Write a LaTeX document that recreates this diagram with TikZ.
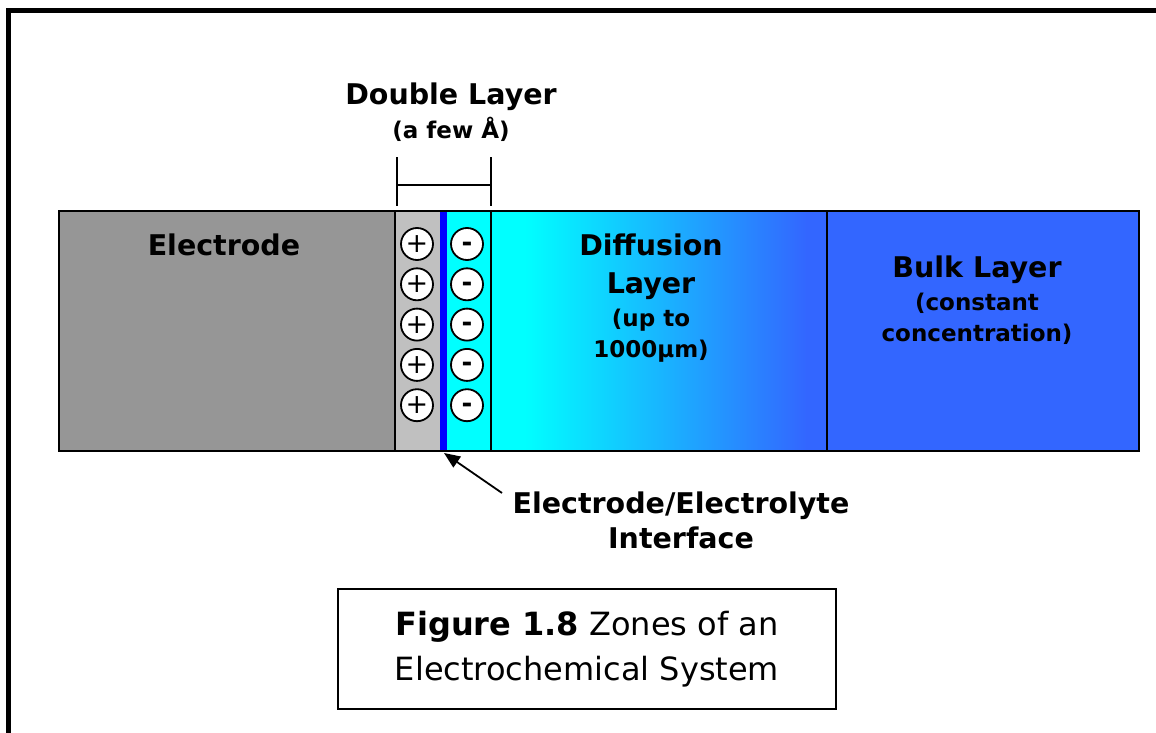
\documentclass[tikz,border=0pt]{standalone}
\usepackage{fontspec}
\setmainfont{DejaVu Sans}
\usetikzlibrary{arrows.meta,positioning,calc}
\definecolor{ElectrodeGray}{HTML}{969696}
\definecolor{SternGray}{HTML}{C0C0C0}
\definecolor{Interface}{HTML}{0000FF}
\definecolor{Aqua}{HTML}{00FFFF}
\definecolor{Bulk}{HTML}{3366FF}
\pgfdeclarehorizontalshading{diffshade}{100bp}{color(0bp)=(Aqua); color(30bp)=(Aqua); color(72bp)=(Bulk); color(100bp)=(Bulk)}

\begin{document}
\begin{tikzpicture}[x=1pt, y=-1pt, >={Triangle[length=16pt,width=13pt]},
  zone/.style={draw=black, line width=1.5pt},
  ion/.style={circle, draw=black, fill=white, line width=1.8pt, minimum size=32pt, inner sep=0pt},
  head/.style={font=\fontsize{28.5}{38}\selectfont\bfseries, align=center, anchor=base},
  sub/.style={font=\fontsize{23}{30.5}\selectfont\bfseries, align=center, anchor=base}]
\useasboundingbox (0,0) rectangle (1156,733);
\clip (0,0) rectangle (1156,733);
% outer frame, runs off the page at right and bottom
\draw[line width=5pt] (8.5,760) -- (8.5,10.5) -- (1180,10.5);
% zones
\fill[ElectrodeGray] (59,211) rectangle (395,451);
\fill[SternGray] (395,211) rectangle (440,451);
\fill[Aqua] (447,211) rectangle (491,451);
\shade[shading=diffshade] (491,211) rectangle (827,451);
\fill[Bulk] (827,211) rectangle (1139,451);
\fill[Interface] (440,211) rectangle (447,451);
\draw[zone] (59,211) rectangle (1139,451);
\foreach \xs in {395,491,827} \draw[zone] (\xs,211) -- (\xs,451);
% ions of the double layer
\foreach \k [count=\i] in {0,...,4} {
  \node[ion, font=\fontsize{27}{27}\selectfont] (pos\i) at (417,244+40.3*\k) {+};
  \node[ion, font=\fontsize{26}{26}\selectfont\bfseries] (neg\i) at (467,244+40.3*\k) {\raisebox{-0.27em}[0pt][0pt]{-}};
}
% double layer bracket
\coordinate (brL) at (397,185);
\coordinate (brR) at (491,185);
\draw[line width=1.5pt] (397,157) -- (397,206) (491,157) -- (491,206);
\draw[line width=1.5pt] (brL) -- (brR);
\node[head] (dbl) at (451,105) {Double Layer};
\node[sub] (dblsub) at (451,139) {(a few Å)};
% zone labels (base = last line)
\node[head] (elec) at (224,255) {Electrode};
\node[head] (diff) at (651,293) {Diffusion\\Layer};
\node[sub] (diffsub) at (651,357) {(up to\\1000µm)};
\node[head] (bulk) at (977,277) {Bulk Layer};
\node[sub] (bulksub) at (977,341) {(constant\\concentration)};
% interface pointer
\node[head, font=\fontsize{28.5}{35}\selectfont\bfseries] (iface) at (681,548) {Electrode/Electrolyte\\Interface};
\coordinate (ifTip) at (444,453);
\coordinate (ifTail) at (502,493);
\draw[->, line width=1.8pt] (ifTail) -- (ifTip);
% caption
\node[draw=black, line width=1.8pt, minimum width=498pt, minimum height=120pt] (capbox) at (587,649) {};
\node[font=\fontsize{32}{45}\selectfont, align=center, anchor=base] (cap) at (587,680) {\textbf{Figure 1.8} Zones of an\\Electrochemical System};
\end{tikzpicture}
\end{document}
